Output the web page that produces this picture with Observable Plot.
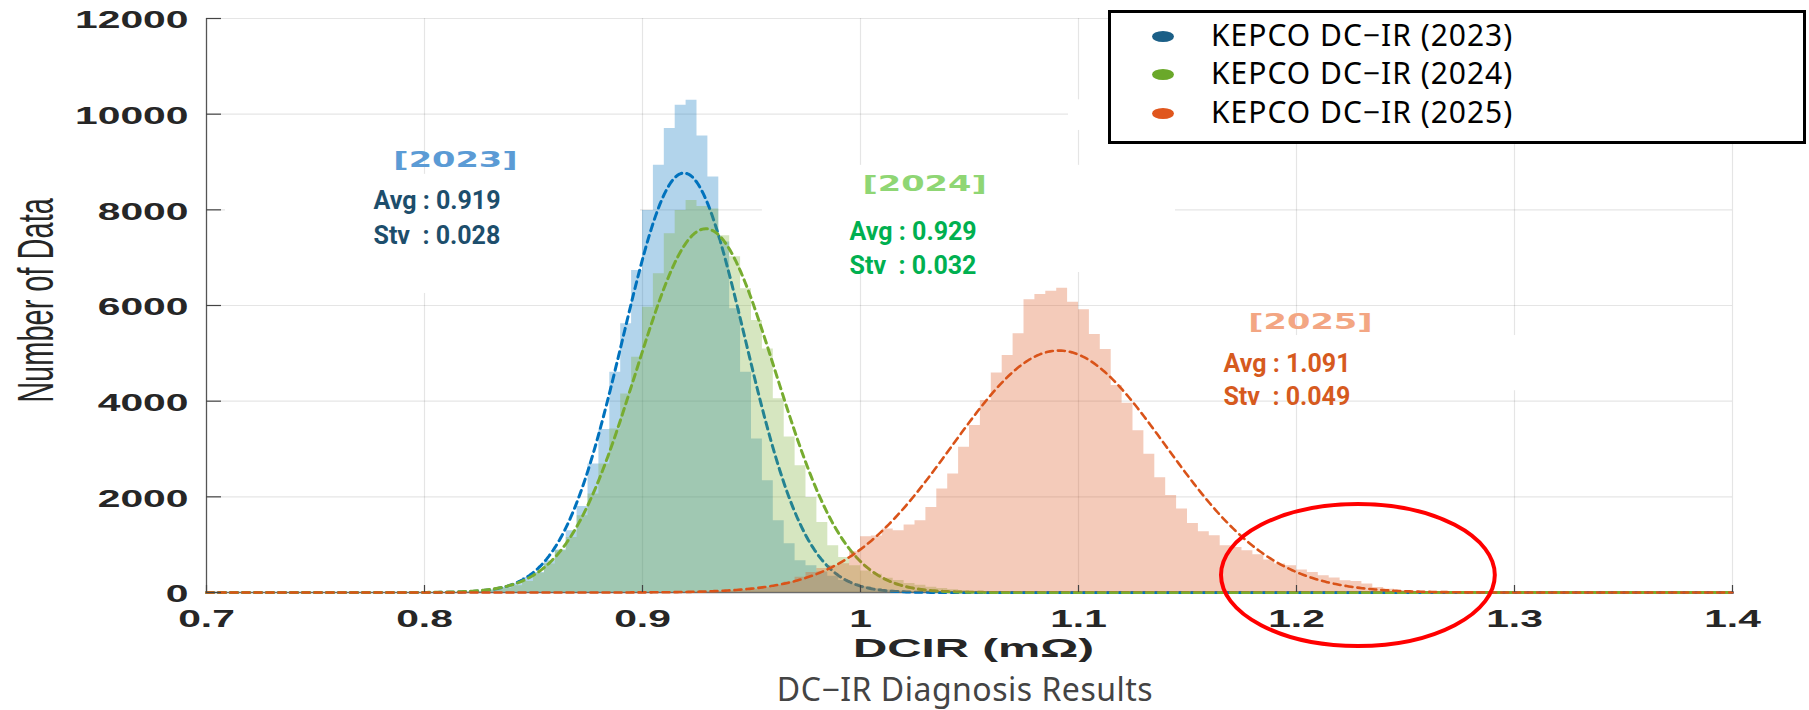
<!DOCTYPE html>
<html>
<head>
<meta charset="utf-8">
<script src="https://cdn.jsdelivr.net/npm/d3@7"></script>
<script src="https://cdn.jsdelivr.net/npm/@observablehq/plot@0.6"></script>
<style>
  html, body { margin: 0; padding: 0; background: #fff; }
  #wrap { position: relative; width: 1809px; height: 710px; overflow: hidden; }
  #chart svg { display: block; }
  #legend {
    position: absolute; left: 1108px; top: 10px; width: 698px; height: 134px;
    box-sizing: border-box; border: 3px solid #000; background: #fff;
    font-family: "Noto Sans", sans-serif;
  }
  #legend .swatch { position: absolute; width: 22px; height: 11px; border-radius: 50%; }
  #legend .label { position: absolute; left: 100px; font-size: 30px; line-height: 30px; letter-spacing: 1px; white-space: nowrap; color: #000; }
  #caption {
    position: absolute; top: 668px; left: 715px; width: 500px; text-align: center;
    font-family: "Noto Sans", sans-serif; font-size: 32px; line-height: 42px; letter-spacing: 0.5px; color: #444;
  }
</style>
</head>
<body>
<div id="wrap">
  <div id="chart"></div>
  <div id="legend"></div>
  <div id="caption">DC−IR Diagnosis Results</div>
</div>
<script>
// ---- data -------------------------------------------------------------
const years = ["2023", "2024", "2025"];
const binWidth = 0.005;            // histogram bin width (mΩ)

const binStart2023 = 0.815;
const counts2023 = [5, 10, 20, 50, 105, 181, 314, 419, 663, 890, 1291, 1800, 2687, 3410, 4604,
  5617, 6733, 7988, 8930, 9698, 10186, 10290, 9544, 8686, 7325, 5931, 4604, 3210, 2338, 1500,
  1019, 663, 559, 430, 340, 250, 180, 120, 80, 50, 30, 18, 10, 5];

const binStart2024 = 0.815;
const counts2024 = [5, 15, 25, 50, 90, 140, 230, 400, 594, 873, 1151, 1605, 2059, 2687, 3419,
  4152, 4918, 5965, 6663, 7500, 7988, 8197, 8072, 8020, 7460, 7020, 6350, 5686, 5093, 4050,
  3250, 2652, 1988, 1465, 977, 733, 560, 450, 380, 300, 250, 190, 150, 110, 85, 55, 40, 25, 15, 8, 4];

const binStart2025 = 0.915;
const counts2025 = [3, 5, 8, 12, 20, 30, 45, 70, 100, 150, 220, 320, 420, 500, 560, 600, 850,
  1166, 1180, 1326, 1291, 1410, 1500, 1779, 2164, 2478, 3035, 3489, 4012, 4590, 4954, 5410,
  6119, 6230, 6300, 6362, 6069, 5910, 5393, 5079, 4326, 3956, 3384, 2890, 2397, 2030, 1745,
  1444, 1270, 1187, 977, 942, 873, 789, 678, 594, 559, 469, 419, 350, 301, 245, 230, 176,
  105, 70, 40, 25, 12, 6, 3];

const avgValues = [0.919, 0.929, 1.091];
const stvValues = [0.028, 0.032, 0.049];
const fitPeaks = [8770, 7605, 5058];   // height of each normal-fit curve at its mean

const xTicks = [0.7, 0.8, 0.9, 1, 1.1, 1.2, 1.3, 1.4];
const yTicks = [0, 2000, 4000, 6000, 8000, 10000, 12000];
const legendLabels = ["KEPCO DC−IR (2023)", "KEPCO DC−IR (2024)", "KEPCO DC−IR (2025)"];

// ---- styling & annotation layout ----------------------------------------
const seriesColors = ["#0072BD", "#77AC30", "#D95319"];
const fitWidths = [3, 3, 2.6];
const legendColors = ["#1b5f87", "#6aa82a", "#e0561d"];
const tagColors = ["#5b9bd5", "#8fd674", "#f3a683"];
const statColors = ["#1d4e6c", "#00b050", "#d65a1e"];
const tagX = [0.8142, 1.0294, 1.2064], tagY = [9052, 8551, 5651];
const statX = [0.7766, 0.995, 1.1665], avgY = [8185, 7547, 4767], stvY = [7463, 6836, 4077];
// white panels that sit behind each annotation block and beside the legend
const noteBoxes = [
  {x1: 0.7087, x2: 0.8991, y1: 6252, y2: 8742},
  {x1: 0.955, x2: 1.1445, y1: 6690, y2: 8930},
  {x1: 1.1627, x2: 1.3072, y1: 4218, y2: 5372},
  {x1: 1.0954, x2: 1.1150, y1: 9660, y2: 10300}
];
// red highlight ring around the 2025 upper tail
const ringCenter = [1.2284, 355], ringRadius = [0.0628, 1484];

// ---- derived series -----------------------------------------------------
function histSteps(start, counts) {
  const pts = counts.map((c, i) => ({x: start + i * binWidth, y: c}));
  pts.push({x: start + counts.length * binWidth, y: 0});
  return pts;
}
const hists = [
  histSteps(binStart2023, counts2023),
  histSteps(binStart2024, counts2024),
  histSteps(binStart2025, counts2025)
];
// normal fit drawn from the stated mean and standard deviation
const fitX = d3.range(0, 701).map(i => 0.7 + i * 0.001);
const fits = years.map((_, k) => fitX.map(x => ({
  x, y: fitPeaks[k] * Math.exp(-0.5 * ((x - avgValues[k]) / stvValues[k]) ** 2)
})));

const tickFont = {fontFamily: "Liberation Sans", fontWeight: "bold", fontSize: 24, fill: "#262626"};
const tag = name => () => name;   // per-element aria-label, used to find texts afterwards

const seriesMarks = years.flatMap((yr, k) => [
  Plot.areaY(hists[k], {x: "x", y: "y", curve: "step-after", fill: seriesColors[k], fillOpacity: 0.3}),
  Plot.line(fits[k], {x: "x", y: "y", stroke: seriesColors[k], strokeWidth: fitWidths[k], strokeDasharray: "7,5"})
]);

const noteMarks = years.flatMap((yr, k) => [
  Plot.text([`[${yr}]`], {x: tagX[k], y: tagY[k], text: d => d, ariaLabel: tag("year-tag"),
    fontFamily: "DejaVu Sans", fontWeight: "bold", fontSize: 22, fill: tagColors[k], textAnchor: "middle"}),
  Plot.text([`Avg : ${avgValues[k].toFixed(3)}`], {x: statX[k], y: avgY[k], text: d => d,
    fontFamily: "Roboto", fontWeight: "bold", fontSize: 25, fill: statColors[k], textAnchor: "start"}),
  Plot.text([`Stv\u00a0\u00a0: ${stvValues[k].toFixed(3)}`], {x: statX[k], y: stvY[k], text: d => d,
    fontFamily: "Roboto", fontWeight: "bold", fontSize: 25, fill: statColors[k], textAnchor: "start"})
]);

function highlightRing(index, {x, y}) {
  const cx = x(ringCenter[0]), cy = y(ringCenter[1]);
  const rx = x(ringCenter[0] + ringRadius[0]) - cx;
  const ry = cy - y(ringCenter[1] + ringRadius[1]);
  const el = document.createElementNS("http://www.w3.org/2000/svg", "ellipse");
  el.setAttribute("cx", cx); el.setAttribute("cy", cy);
  el.setAttribute("rx", rx); el.setAttribute("ry", ry);
  el.setAttribute("fill", "none"); el.setAttribute("stroke", "#ff0000"); el.setAttribute("stroke-width", 4);
  return el;
}

const chart = Plot.plot({
  width: 1809,
  height: 668,
  marginLeft: 206, marginRight: 77, marginTop: 18, marginBottom: 76,
  x: {domain: [0.7, 1.4]},
  y: {domain: [0, 12000]},
  style: {background: "transparent"},
  marks: [
    Plot.gridX(xTicks.slice(1), {stroke: "#000", strokeOpacity: 0.1, strokeWidth: 1.2}),
    Plot.gridY(yTicks.slice(1), {stroke: "#000", strokeOpacity: 0.1, strokeWidth: 1.2}),
    Plot.rect(noteBoxes, {x1: "x1", x2: "x2", y1: "y1", y2: "y2", fill: "#fff"}),
    Plot.ruleY([0], {stroke: "#6b6b6b", strokeWidth: 1.3}),
    Plot.ruleX([0.7], {stroke: "#555", strokeWidth: 1.3}),
    ...seriesMarks,
    Plot.tickY(yTicks, {y: d => d, stroke: "#444", strokeWidth: 1.2, insetRight: 1526 - 15}),
    Plot.tickX(xTicks, {x: d => d, stroke: "#444", strokeWidth: 1.2, insetTop: 574 - 7}),
    Plot.axisY(yTicks, {tickSize: 0, tickPadding: 18, dy: 2, label: null, tickFormat: d => String(d), ...tickFont}),
    Plot.axisX(xTicks, {tickSize: 0, tickPadding: 17, label: null, tickFormat: d => String(d), ...tickFont}),
    Plot.text(["Number of Data"], {frameAnchor: "left", dx: -169, dy: -5, rotate: -90, text: d => d,
      textAnchor: "middle", lineAnchor: "middle",
      ariaLabel: tag("y-title"), fontFamily: "Liberation Sans", fontSize: 29, fill: "#262626"}),
    Plot.text(["DCIR (mΩ)"], {frameAnchor: "bottom", dx: 4, dy: 56, text: d => d,
      textAnchor: "middle", lineAnchor: "middle",
      ariaLabel: tag("x-title"), fontFamily: "Liberation Sans", fontWeight: "bold", fontSize: 25, fill: "#262626"}),
    ...noteMarks,
    highlightRing
  ]
});

// widen text horizontally about its own anchor point
function stretchX(root, name, s) {
  const sel = `text[aria-label="${name}"], g[aria-label="${name}"] text`;
  root.querySelectorAll(sel).forEach(t => {
    let tr = t.getAttribute("transform");
    if (!tr) {
      const x = +t.getAttribute("x") || 0, y = +t.getAttribute("y") || 0;
      t.removeAttribute("x"); t.removeAttribute("y");
      tr = `translate(${x},${y})`;
    }
    if (/rotate\(/.test(tr)) t.setAttribute("transform", tr.replace(/\s*rotate\(/, ` scale(${s},1) rotate(`));
    else t.setAttribute("transform", `${tr} scale(${s},1)`);
  });
}
stretchX(chart, "y-axis tick label", 1.7);
stretchX(chart, "x-axis tick label", 1.7);
stretchX(chart, "y-title", 1.7);
stretchX(chart, "x-title", 1.9);
stretchX(chart, "year-tag", 1.53);

document.getElementById("chart").appendChild(chart);

// ---- legend box -----------------------------------------------------------
const legend = document.getElementById("legend");
const rowCenters = [23, 61, 100];
legendLabels.forEach((lab, i) => {
  const sw = document.createElement("div");
  sw.className = "swatch";
  sw.style.left = "40.5px";
  sw.style.top = (rowCenters[i] - 5.5) + "px";
  sw.style.background = legendColors[i];
  legend.appendChild(sw);
  const tx = document.createElement("div");
  tx.className = "label";
  tx.style.top = (rowCenters[i] - 16) + "px";
  tx.textContent = lab;
  legend.appendChild(tx);
});
</script>
</body>
</html>
